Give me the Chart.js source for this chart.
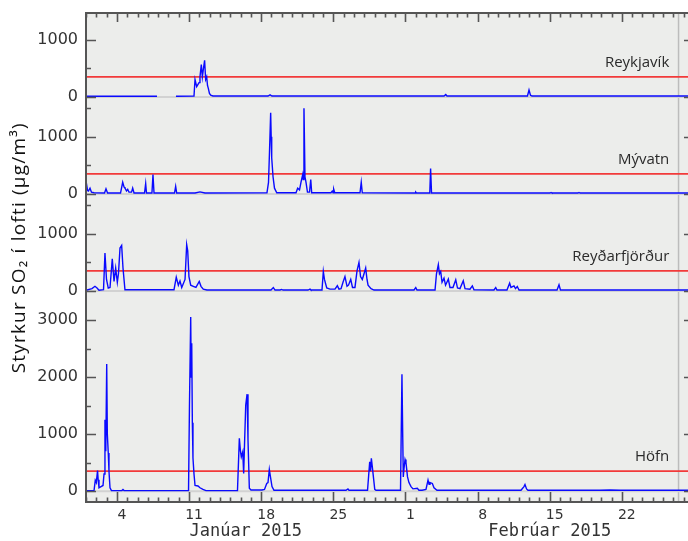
<!DOCTYPE html>
<html>
<head>
<meta charset="utf-8">
<script src="https://cdn.jsdelivr.net/npm/chart.js@4.4.1/dist/chart.umd.min.js"></script>
<style>
html,body{margin:0;padding:0;overflow:hidden;background:#fff;width:688px;height:541px}
#wrap{width:696px;height:541px}
canvas{display:block}
</style>
</head>
<body>
<div id="wrap"><canvas id="c" width="696" height="541"></canvas></div>
<script>
// ---- DATA (x = days since 1 Jan 2015 00:00, y = SO2 µg/m³) ----
const stations = ['Reykjavík', 'Mývatn', 'Reyðarfjörður', 'Höfn'];
const limitValue = 350;
const tickDays = [3, 10, 17, 24, 31, 38, 45, 52];
const tickLabels = ['4', '11', '18', '25', '1', '8', '15', '22'];
const monthLabels = ['Janúar 2015', 'Febrúar 2015'];
const monthCenters = [15.5, 45];
const markerDay = 57.5;
const yTitle = 'Styrkur SO\u2082 í lofti (µg/m\u00B3)';

const reykjavikDays = [0,6.89,6.94,8.73,10.48,10.58,10.74,10.87,10.97,11.06,11.19,11.29,11.40,11.51,11.61,11.71,11.79,11.87,11.98,12.10,12.32,17.66,17.86,18.05,34.74,34.91,35.03,42.84,42.99,43.13,43.28,59];
const reykjavikValues = [10,10,null,10,15,305,180,220,250,350,567,350,500,641,305,353,200,150,60,30,15,15,35,15,15,40,15,15,121,30,15,15];

const myvatnDays = [0,0.15,0.24,0.39,0.53,0.78,1.80,1.94,2.09,3.35,3.56,3.69,3.78,3.93,4.05,4.17,4.42,4.53,4.66,5.68,5.79,5.87,6.40,6.50,6.60,8.59,8.70,8.80,10.58,11.06,11.55,17.56,17.71,17.80,17.92,17.97,18.02,18.15,18.29,18.51,20.38,20.54,20.72,20.86,21.03,21.08,21.15,21.25,21.35,21.49,21.69,21.81,21.90,23.77,23.90,23.97,24.04,24.14,26.59,26.71,26.81,31.93,32.00,32.07,33.36,33.44,33.53,45.03,45.13,45.22,47.74,47.84,47.94,59];
const myvatnValues = [230,60,50,100,30,20,15,88,15,15,204,120,100,50,80,30,30,100,15,15,181,15,15,339,15,15,133,15,15,35,15,20,200,700,1421,1000,632,300,100,20,20,100,70,200,339,250,1549,300,200,30,30,251,20,20,50,20,80,20,20,204,20,15,30,15,15,444,15,15,25,15,15,25,15,15];

const reydarDays = [0,0.58,0.87,1.07,1.26,1.70,1.84,1.99,2.16,2.33,2.55,2.72,2.88,3.04,3.15,3.30,3.46,3.59,3.78,8.54,8.76,8.96,9.12,9.29,9.61,9.77,9.87,9.99,10.16,10.41,10.67,10.99,11.16,11.38,11.74,17.95,18.18,18.34,18.83,18.99,19.12,21.54,21.74,21.83,22.90,23.03,23.14,23.36,23.68,24.16,24.39,24.55,24.75,24.94,25.13,25.33,25.47,25.69,25.86,26.10,26.30,26.49,26.64,26.81,26.98,27.14,27.27,27.37,27.66,27.95,31.83,32.00,32.12,33.87,34.01,34.19,34.30,34.42,34.55,34.74,34.89,35.16,35.32,35.61,35.88,36.05,36.29,36.61,36.78,37.26,37.49,37.65,39.59,39.76,39.88,40.85,41.11,41.24,41.53,41.68,41.85,42.02,45.71,45.90,46.04,59];
const reydarValues = [10,40,80,50,10,20,665,200,50,60,560,165,400,150,300,750,795,400,20,20,240,100,175,60,200,810,700,250,100,80,60,165,80,30,15,15,58,15,15,25,15,15,30,15,15,340,200,50,30,30,90,30,40,150,250,80,100,200,60,60,350,500,250,200,300,400,200,100,40,15,15,58,15,15,300,460,300,340,150,224,100,206,60,60,194,50,40,176,40,30,88,20,15,58,15,15,135,60,88,40,76,15,15,106,15,15];

const hofnDays = [0,0.78,0.90,1.00,1.12,1.18,1.26,1.46,1.65,1.75,1.84,1.92,2.01,2.07,2.16,2.23,2.33,2.47,3.49,3.59,3.69,9.95,10.04,10.16,10.21,10.26,10.32,10.38,10.48,10.58,10.87,11.06,11.35,11.64,14.70,14.88,14.99,15.07,15.21,15.30,15.38,15.50,15.63,15.72,15.85,16.01,17.08,17.32,17.54,17.66,17.79,17.90,18.05,18.24,25.23,25.42,25.52,27.32,27.53,27.61,27.69,27.80,28.02,28.14,30.52,30.66,30.74,30.79,30.86,30.96,31.05,31.20,31.34,31.54,31.73,32.15,32.31,32.61,32.99,33.19,33.29,33.38,33.61,33.77,34.06,42.21,42.50,42.60,42.75,42.89,49.88,50.85,51.82,59];
const hofnValues = [10,10,190,150,360,200,60,80,100,300,1250,700,2230,1000,670,350,60,10,10,30,10,10,1500,3050,2000,2590,1200,580,300,100,90,60,30,10,10,925,700,600,690,310,800,1510,1700,900,50,20,20,30,135,150,380,250,80,15,15,40,15,15,515,350,575,400,30,15,15,2050,900,250,400,555,500,250,150,80,40,50,15,15,30,193,120,150,135,60,15,15,80,117,40,15,15,20,15,15];

const seriesDays = [reykjavikDays, myvatnDays, reydarDays, hofnDays];
const seriesValues = [reykjavikValues, myvatnValues, reydarValues, hofnValues];
const yMins = [-200, -200, -200, -190];
const yMaxs = [1470, 1500, 1500, 3310];
const yTickValues = [[0, 1000], [0, 1000], [0, 1000], [0, 1000, 2000, 3000]];

// ---- CHART ----
const axisIds = ['y0', 'y1', 'y2', 'y3'];
Chart.defaults.font.family = 'DejaVu Sans';
Chart.defaults.color = '#333';

const datasets = [];
stations.forEach((s, i) => {
  const xMin = 0, xMax = 59;
  datasets.push({
    label: s + ' 0', yAxisID: axisIds[i], order: 3,
    data: [{x: xMin, y: 0}, {x: xMax, y: 0}],
    borderColor: '#d2d2d2', borderWidth: 2, pointRadius: 0
  });
  datasets.push({
    label: s, yAxisID: axisIds[i], order: 1,
    data: seriesDays[i].map((d, k) => ({x: d, y: seriesValues[i][k]})),
    borderColor: '#0a0aff', borderWidth: 1.4, pointRadius: 0, tension: 0, spanGaps: false
  });
  datasets.push({
    label: s + ' limit', yAxisID: axisIds[i], order: 2,
    data: [{x: xMin, y: limitValue}, {x: xMax, y: limitValue}],
    borderColor: '#f23a3a', borderWidth: 1.8, pointRadius: 0
  });
});

const scales = {
  x: {
    type: 'linear', position: 'bottom', min: 0, max: 59,
    grid: {display: false, drawTicks: false}, border: {display: false},
    afterBuildTicks: s => { s.ticks = tickDays.map(v => ({value: v})); },
    afterFit: s => { s.height = 39; s.paddingLeft = 0; s.paddingRight = 0; },
    ticks: {
      autoSkip: false, maxRotation: 0, labelOffset: 5, padding: 5,
      font: {size: 14}, color: '#333',
      callback: (v, i) => tickLabels[i]
    }
  }
};
axisIds.forEach((id, i) => {
  scales[id] = {
    type: 'linear', position: 'left', stack: 'so2',
    stackWeight: yMaxs[i] - yMins[i], weight: 10 - i,
    min: yMins[i], max: yMaxs[i],
    grid: {display: false, drawTicks: false}, border: {display: false},
    afterBuildTicks: s => { s.ticks = yTickValues[i].map(v => ({value: v})); },
    afterFit: s => { s.width = 86; s.paddingTop = 0; s.paddingBottom = 0; },
    ticks: {padding: 8, font: {size: 16}, color: '#333', callback: v => String(v)}
  };
});

const decor = {
  id: 'decor',
  beforeDraw(chart) {
    const {ctx, chartArea: a} = chart;
    ctx.save();
    ctx.fillStyle = '#ecedeb';
    ctx.fillRect(a.left, a.top, a.right - a.left, a.bottom - a.top);
    ctx.restore();
  },
  beforeDatasetsDraw(chart) {
    const {ctx, chartArea: a} = chart;
    const px = chart.scales.x.getPixelForValue(markerDay);
    ctx.save();
    ctx.strokeStyle = '#bcbcbc';
    ctx.lineWidth = 1.5;
    ctx.beginPath(); ctx.moveTo(px, a.top); ctx.lineTo(px, a.bottom); ctx.stroke();
    ctx.restore();
  },
  afterDraw(chart) {
    const {ctx, chartArea: a} = chart;
    const xs = chart.scales.x;
    ctx.save();
    ctx.strokeStyle = '#555';
    ctx.lineWidth = 1.6;
    // x ticks (inward), every day
    ctx.beginPath();
    for (let d = 0; d <= 59; d++) {
      const px = Math.round(xs.getPixelForValue(d)) + 0.5;
      const major = tickDays.includes(d);
      ctx.moveTo(px, a.bottom); ctx.lineTo(px, a.bottom - (major ? 10 : 4.5));
      ctx.moveTo(px, a.top); ctx.lineTo(px, a.top + (major ? 9 : 4.5));
    }
    // y ticks (inward) per panel
    axisIds.forEach((id, i) => {
      const ys = chart.scales[id];
      for (let v = 0; v <= yMaxs[i]; v += 500) {
        const py = Math.round(ys.getPixelForValue(v)) + 0.5;
        const major = v % 1000 === 0;
        ctx.moveTo(a.left, py); ctx.lineTo(a.left + (major ? 10 : 5), py);
        ctx.moveTo(a.right, py); ctx.lineTo(a.right - (major ? 10 : 5), py);
      }
    });
    ctx.stroke();
    // frame
    ctx.lineWidth = 2;
    ctx.strokeRect(a.left, a.top, a.right - a.left, a.bottom - a.top);

    // panel labels
    ctx.fillStyle = '#2a2a2a';
    ctx.font = '15px "Open Sans"';
    ctx.textAlign = 'right';
    ctx.textBaseline = 'middle';
    stations.forEach((s, i) => {
      const ys = chart.scales[axisIds[i]];
      ctx.fillText(s, xs.getPixelForValue(56.6), ys.getPixelForValue(600));
    });

    // month labels
    ctx.fillStyle = '#333';
    ctx.font = '17px "DejaVu Sans Mono"';
    ctx.textAlign = 'center';
    monthLabels.forEach((m, i) => {
      ctx.fillText(m, xs.getPixelForValue(monthCenters[i]), a.bottom + 30);
    });

    // y title
    ctx.translate(20, a.top + (a.bottom - a.top) * 0.48);
    ctx.rotate(-Math.PI / 2);
    ctx.font = '19px "Open Sans"';
    ctx.letterSpacing = '1.2px';
    ctx.fillStyle = '#111';
    ctx.fillText(yTitle, 0, 0);
    ctx.restore();
  }
};

new Chart(document.getElementById('c'), {
  type: 'line',
  data: {datasets},
  options: {
    responsive: false, animation: false, devicePixelRatio: 1,
    layout: {padding: {left: 0, top: 13, right: 2, bottom: 0}},
    plugins: {legend: {display: false}, tooltip: {enabled: false}},
    scales
  },
  plugins: [decor]
});
</script>
</body>
</html>
